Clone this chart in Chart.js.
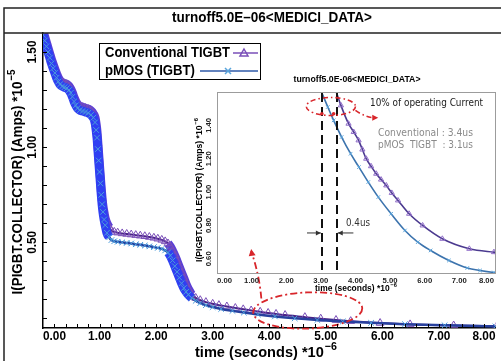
<!DOCTYPE html>
<html>
<head>
<meta charset="utf-8">
<script src="https://cdn.jsdelivr.net/npm/chart.js@4.4.1/dist/chart.umd.min.js"></script>
<style>
  html, body { margin: 0; padding: 0; background: #fff; }
  #wrap { position: relative; width: 501px; height: 361px; overflow: hidden; }
  #main { position: absolute; left: 0; top: 0; }
  #inset { position: absolute; left: 190px; top: 70px; }
</style>
</head>
<body>
<div id="wrap">
  <canvas id="main" width="501" height="361"></canvas>
  <canvas id="inset" width="311" height="230"></canvas>
</div>
<script>
// main plot: time (us) and collector current (x1e-5 A)
const convTime = [
  0.00, 0.03, 0.06, 0.09, 0.12, 0.15, 0.18, 0.21, 0.24, 0.27, 0.30,
  0.34, 0.38, 0.42, 0.46, 0.49, 0.52, 0.55, 0.58, 0.61, 0.65,
  0.70, 0.75, 0.80, 0.85, 0.89, 0.92, 0.94, 0.955, 0.97, 0.985,
  1.00, 1.015, 1.03, 1.045, 1.06, 1.08, 1.10, 1.13, 1.17, 1.21,
  1.26, 1.32, 1.40, 1.48, 1.56, 1.64, 1.72, 1.80, 1.88, 1.96,
  2.03, 2.10, 2.16, 2.21, 2.25, 2.29, 2.33, 2.37, 2.41, 2.45,
  2.49, 2.53, 2.57, 2.63, 2.70, 2.78, 2.88, 3.00, 3.11, 3.25,
  3.40, 3.54, 3.68, 3.84, 3.98, 4.12, 4.28, 4.63, 4.91, 5.18,
  5.44, 5.96, 6.49, 7.26, 8.02
];
const convCurrent = [
  1.61, 1.58, 1.55, 1.52, 1.49, 1.46, 1.435, 1.41, 1.385, 1.365, 1.35,
  1.34, 1.335, 1.33, 1.32, 1.305, 1.285, 1.26, 1.24, 1.225, 1.215,
  1.21, 1.205, 1.20, 1.19, 1.175, 1.155, 1.12, 1.08, 1.02, 0.96,
  0.90, 0.84, 0.78, 0.73, 0.69, 0.655, 0.625, 0.60, 0.578, 0.562,
  0.555, 0.551, 0.547, 0.544, 0.541, 0.538, 0.535, 0.532, 0.528, 0.524,
  0.519, 0.513, 0.505, 0.494, 0.478, 0.455, 0.43, 0.40, 0.37, 0.34,
  0.31, 0.28, 0.255, 0.225, 0.208, 0.196, 0.186, 0.177, 0.170, 0.163,
  0.155, 0.148, 0.142, 0.135, 0.129, 0.124, 0.118, 0.107, 0.099, 0.092,
  0.086, 0.076, 0.069, 0.063, 0.06
];
const pmosTime = [
  0.00, 0.03, 0.06, 0.09, 0.12, 0.15, 0.18, 0.21, 0.24, 0.27, 0.30,
  0.34, 0.38, 0.42, 0.46, 0.49, 0.52, 0.55, 0.58, 0.61, 0.65,
  0.70, 0.75, 0.80, 0.85, 0.89, 0.92, 0.94, 0.955, 0.97, 0.985,
  1.00, 1.015, 1.03, 1.045, 1.06, 1.08, 1.10, 1.13, 1.17, 1.21,
  1.26, 1.32, 1.40, 1.48, 1.56, 1.64, 1.72, 1.80, 1.88, 1.96,
  2.03, 2.10, 2.16, 2.21, 2.25, 2.29, 2.33, 2.37, 2.41, 2.45,
  2.49, 2.53, 2.57, 2.63, 2.70, 2.78, 2.88, 3.00, 3.15, 3.35,
  3.55, 3.80, 4.10, 4.45, 4.85, 5.30, 5.80, 6.40, 7.10, 8.00
];
const pmosCurrent = [
  1.59, 1.56, 1.53, 1.50, 1.47, 1.44, 1.415, 1.39, 1.365, 1.345, 1.33,
  1.32, 1.315, 1.31, 1.30, 1.285, 1.265, 1.24, 1.22, 1.205, 1.195,
  1.19, 1.185, 1.18, 1.17, 1.155, 1.13, 1.09, 1.05, 0.99, 0.93,
  0.87, 0.81, 0.75, 0.70, 0.66, 0.62, 0.59, 0.55, 0.527, 0.512,
  0.506, 0.503, 0.50, 0.497, 0.494, 0.49, 0.487, 0.483, 0.479, 0.475,
  0.471, 0.466, 0.458, 0.447, 0.43, 0.405, 0.375, 0.345, 0.315, 0.285,
  0.26, 0.24, 0.225, 0.208, 0.193, 0.181, 0.17, 0.16, 0.15, 0.14,
  0.131, 0.121, 0.111, 0.101, 0.092, 0.084, 0.077, 0.07, 0.064, 0.058
];
const xTickValues = [0, 1, 2, 3, 4, 5, 6, 7, 8];
const xTickLabels = ['0.00', '1.00', '2.00', '3.00', '4.00', '5.00', '6.00', '7.00', '8.00'];
const yTickValues = [0.5, 1.0, 1.5];
const yTickLabels = ['0.50', '1.00', '1.50'];

// inset plot (x1e-6 A)
const insetConvTime = [3.43, 3.58, 3.80, 3.95, 4.09, 4.20, 4.31, 4.45, 4.60, 4.74, 4.89, 5.05, 5.23, 5.55, 5.94, 6.51, 7.29, 8.00, 8.10];
const insetConvCurrent = [1.61, 1.52, 1.41, 1.36, 1.31, 1.255, 1.20, 1.155, 1.11, 1.075, 1.04, 0.995, 0.95, 0.87, 0.80, 0.72, 0.66, 0.64, 0.638];
const insetPmosTime = [3.00, 3.20, 3.37, 3.60, 3.86, 4.10, 4.37, 4.66, 5.03, 5.43, 5.80, 6.17, 6.70, 7.23, 7.60, 8.00, 8.10];
const insetPmosCurrent = [1.61, 1.51, 1.43, 1.33, 1.23, 1.15, 1.06, 0.97, 0.87, 0.77, 0.70, 0.65, 0.59, 0.545, 0.53, 0.518, 0.516];
const insetYTickValues = [0.6, 0.8, 1.0, 1.2, 1.4];
const insetYTickLabels = ['0.60', '0.80', '1.00', '1.20', '1.40'];
const turnoffTimes = [3.03, 3.46];

const SANS = '"Liberation Sans", Arial, Helvetica, sans-serif';
const RED = '#d8262b';

function pairs(ts, vs) {
  return ts.map((t, i) => ({ x: t, y: vs[i] }));
}

function drawLabel(ctx, text, x, y, o) {
  ctx.save();
  ctx.font = `${o.weight || 'bold'} ${o.size}px ${o.family || SANS}`;
  const w = ctx.measureText(text).width;
  const sx = o.width ? o.width / w : 1;
  ctx.translate(x, y);
  if (o.rotate) ctx.rotate(o.rotate);
  ctx.scale(sx, 1);
  ctx.fillStyle = o.color || '#000';
  ctx.textBaseline = 'middle';
  ctx.textAlign = o.align || 'center';
  ctx.fillText(text, 0, 0);
  ctx.restore();
}

function drawSupLabel(ctx, base, sup, x, y, o) {
  const supSize = Math.round(o.size * 0.72);
  ctx.save();
  ctx.font = `bold ${o.size}px ${SANS}`;
  const wb = ctx.measureText(base).width;
  ctx.font = `bold ${supSize}px ${SANS}`;
  const ws = ctx.measureText(sup).width;
  const total = wb + 1 + ws;
  const sx = o.width ? o.width / total : 1;
  ctx.translate(x, y);
  if (o.rotate) ctx.rotate(o.rotate);
  ctx.scale(sx, 1);
  ctx.fillStyle = '#000';
  ctx.textBaseline = 'middle';
  ctx.textAlign = 'left';
  ctx.font = `bold ${o.size}px ${SANS}`;
  ctx.fillText(base, -total / 2, 0);
  ctx.font = `bold ${supSize}px ${SANS}`;
  ctx.fillText(sup, -total / 2 + wb + 1, -o.size * 0.4);
  ctx.restore();
}

function arrowHead(ctx, x, y, ang, size, color) {
  ctx.save();
  ctx.translate(x, y);
  ctx.rotate(ang);
  ctx.fillStyle = color;
  ctx.beginPath();
  ctx.moveTo(0, 0);
  ctx.lineTo(-size, -size * 0.5);
  ctx.lineTo(-size, size * 0.5);
  ctx.closePath();
  ctx.fill();
  ctx.restore();
}

// steep, densely sampled parts of the transient show up as a solid band
const inBand = t => t < 1.17 || (t > 2.2 && t < 2.62);
function bandSegment(thick, thin, thinWidth) {
  return {
    borderWidth: c => inBand(c.p0.parsed.x) ? 9 : thinWidth,
    borderColor: c => inBand(c.p0.parsed.x) ? thick : thin
  };
}

const mainDecor = {
  id: 'mainDecor',
  afterDatasetsDraw(chart) {
    const { ctx, scales: { x, y } } = chart;
    ctx.save();
    ctx.strokeStyle = RED;
    ctx.lineWidth = 1.8;
    ctx.setLineDash([7, 3, 2, 3]);
    const cx = x.getPixelForValue(4.68), cy = y.getPixelForValue(0.142);
    const rx = x.getPixelForValue(4.68 + 0.965) - cx;
    const ry = cy - y.getPixelForValue(0.142 + 0.095);
    ctx.beginPath();
    ctx.ellipse(cx, cy, rx, ry, -0.04, 0, Math.PI * 2);
    ctx.stroke();
    const x0 = x.getPixelForValue(3.86), y0 = y.getPixelForValue(0.205);
    const x1 = x.getPixelForValue(3.68), y1 = y.getPixelForValue(0.455);
    ctx.beginPath();
    ctx.moveTo(x0, y0);
    ctx.quadraticCurveTo(x0 - 2, (y0 + y1) / 2, x1, y1);
    ctx.stroke();
    ctx.setLineDash([]);
    arrowHead(ctx, x1, y1 - 2, -Math.PI / 2 - 0.15, 7, RED);
    ctx.restore();
  },
  afterDraw(chart) {
    const { ctx, chartArea: a, scales: { x, y } } = chart;
    ctx.save();
    // frame and title strip
    ctx.strokeStyle = '#222';
    ctx.lineWidth = 1.5;
    ctx.beginPath();
    ctx.moveTo(4, 361); ctx.lineTo(4, 8); ctx.lineTo(501, 8);
    ctx.moveTo(4, a.top); ctx.lineTo(501, a.top);
    ctx.stroke();
    drawLabel(ctx, 'turnoff5.0E–06<MEDICI_DATA>', 272, 18, { size: 14, width: 200 });

    // inward minor ticks
    ctx.strokeStyle = '#000';
    ctx.lineWidth = 1;
    ctx.beginPath();
    for (let v = 0.2; v < 7.95; v += 0.2) {
      const px = Math.round(x.getPixelForValue(v)) + 0.5;
      ctx.moveTo(px, a.bottom); ctx.lineTo(px, a.bottom - 4);
    }
    for (let v = 0.1; v < 1.59; v += 0.1) {
      const py = Math.round(y.getPixelForValue(v)) + 0.5;
      ctx.moveTo(a.left, py); ctx.lineTo(a.left + 4, py);
    }
    ctx.stroke();

    // tick labels
    xTickValues.forEach((v, i) => {
      const px = x.getPixelForValue(v);
      const align = i === 0 ? 'left' : (i === xTickValues.length - 1 ? 'right' : 'center');
      drawLabel(ctx, xTickLabels[i], px, 336, { size: 13, width: 23, align });
    });
    yTickValues.forEach((v, i) => {
      drawLabel(ctx, yTickLabels[i], 32, y.getPixelForValue(v), { size: 13, width: 23, rotate: -Math.PI / 2 });
    });

    // axis titles
    drawSupLabel(ctx, 'time (seconds) *10', '−6', 266, 353, { size: 15, width: 142 });
    drawSupLabel(ctx, 'I(PIGBT.COLLECTOR) (Amps) *10', '−5', 18, 182, { size: 15, width: 225, rotate: -Math.PI / 2 });

    // legend box
    ctx.fillStyle = '#fff';
    ctx.fillRect(99, 43, 161, 36);
    ctx.strokeStyle = '#000';
    ctx.lineWidth = 1;
    ctx.strokeRect(99.5, 43.5, 161, 36);
    drawLabel(ctx, 'Conventional TIGBT', 105, 53, { size: 14, width: 125, align: 'left' });
    drawLabel(ctx, 'pMOS (TIGBT)', 105, 71, { size: 14, width: 90, align: 'left' });
    const ds = chart.data.datasets;
    ctx.lineWidth = 1.5;
    ctx.strokeStyle = ds[0].pointBorderColor;
    ctx.beginPath(); ctx.moveTo(233, 53); ctx.lineTo(258, 53); ctx.stroke();
    ctx.beginPath(); ctx.moveTo(244, 49); ctx.lineTo(248, 56); ctx.lineTo(240, 56); ctx.closePath(); ctx.stroke();
    ctx.strokeStyle = '#2f5aa8';
    ctx.beginPath(); ctx.moveTo(200, 71); ctx.lineTo(258, 71); ctx.stroke();
    ctx.strokeStyle = '#5aa5dc';
    ctx.beginPath();
    ctx.moveTo(225, 68); ctx.lineTo(231, 74); ctx.moveTo(231, 68); ctx.lineTo(225, 74);
    ctx.stroke();
    ctx.restore();
  }
};

new Chart(document.getElementById('main'), {
  type: 'line',
  data: {
    datasets: [
      {
        label: 'Conventional TIGBT',
        data: pairs(convTime, convCurrent),
        borderColor: '#4a2385',
        borderWidth: 2,
        pointStyle: 'triangle',
        pointRadius: 4.5,
        pointBorderWidth: 1,
        pointBorderColor: '#7a4fb8',
        pointBackgroundColor: 'rgba(0,0,0,0)',
        cubicInterpolationMode: 'monotone',
        segment: bandSegment('#5b3fd6', '#4a2385', 2),
        clip: 0,
        order: 1
      },
      {
        label: 'pMOS (TIGBT)',
        data: pairs(pmosTime, pmosCurrent),
        borderColor: '#27409e',
        borderWidth: 2.5,
        pointStyle: 'crossRot',
        pointRadius: 4,
        pointBorderWidth: 1,
        pointBorderColor: '#4a9ddc',
        cubicInterpolationMode: 'monotone',
        segment: bandSegment('#2f3ff2', '#27409e', 2.5),
        clip: 0,
        order: 0
      }
    ]
  },
  options: {
    responsive: false,
    animation: false,
    devicePixelRatio: 1,
    layout: { padding: { top: 33, right: 1, left: 0, bottom: 0 } },
    plugins: { legend: { display: false }, tooltip: { enabled: false } },
    scales: {
      x: {
        type: 'linear', min: 0, max: 8,
        ticks: { display: false },
        grid: { display: false, drawTicks: false },
        border: { display: true, color: '#000', width: 1.5 },
        afterFit: s => { s.height = 33; }
      },
      y: {
        type: 'linear', min: 0.05, max: 1.6,
        ticks: { display: false },
        grid: { display: false, drawTicks: false },
        border: { display: true, color: '#000', width: 1.5 },
        afterFit: s => { s.width = 43; }
      }
    }
  },
  plugins: [mainDecor]
});

const insetDecor = {
  id: 'insetDecor',
  afterDraw(chart) {
    const { ctx, chartArea: a, scales: { x, y } } = chart;
    ctx.save();
    ctx.strokeStyle = '#9c9c9c';
    ctx.lineWidth = 1;
    ctx.strokeRect(a.left + 0.5, a.top + 0.5, a.right - a.left - 1, a.bottom - a.top);
    drawLabel(ctx, 'turnoff5.0E-06<MEDICI_DATA>', 167, 10, { size: 9, width: 127 });

    xTickValues.forEach((v, i) => {
      const px = x.getPixelForValue(v);
      const align = i === 0 ? 'left' : (i === xTickValues.length - 1 ? 'right' : 'center');
      drawLabel(ctx, xTickLabels[i], px, 211, { size: 8, width: 15, align, color: '#222' });
    });
    insetYTickValues.forEach((v, i) => {
      drawLabel(ctx, insetYTickLabels[i], 19, y.getPixelForValue(v), { size: 8, width: 15, rotate: -Math.PI / 2, color: '#222' });
    });
    drawSupLabel(ctx, 'time (seconds) *10', '−6', 166, 219, { size: 9, width: 82 });
    drawSupLabel(ctx, 'I(PIGBT.COLLECTOR) (Amps) *10', '−6', 10, 120, { size: 9, width: 144, rotate: -Math.PI / 2 });

    // turn-off markers
    ctx.strokeStyle = '#111';
    ctx.lineWidth = 2;
    ctx.setLineDash([9, 5]);
    turnoffTimes.forEach(t => {
      const px = Math.round(x.getPixelForValue(t));
      ctx.beginPath(); ctx.moveTo(px, a.top + 1); ctx.lineTo(px, a.bottom); ctx.stroke();
    });
    ctx.setLineDash([]);
    const ay = y.getPixelForValue(0.755);
    const l0 = x.getPixelForValue(2.6), l1 = x.getPixelForValue(turnoffTimes[0]) - 1;
    const r0 = x.getPixelForValue(3.94), r1 = x.getPixelForValue(turnoffTimes[1]) + 1;
    ctx.lineWidth = 1;
    ctx.strokeStyle = '#333';
    ctx.beginPath(); ctx.moveTo(l0, ay); ctx.lineTo(l1, ay); ctx.moveTo(r0, ay); ctx.lineTo(r1, ay); ctx.stroke();
    arrowHead(ctx, l1, ay, 0, 5, '#333');
    arrowHead(ctx, r1, ay, Math.PI, 5, '#333');
    drawLabel(ctx, '0.4us', 156, 153, { size: 10, width: 24, align: 'left', weight: 'normal', family: '"DejaVu Sans", sans-serif', color: '#333' });

    // 10 % annotation
    ctx.strokeStyle = RED;
    ctx.lineWidth = 1.6;
    ctx.setLineDash([5, 3, 1.5, 3]);
    const cx = x.getPixelForValue(3.29), cy = y.getPixelForValue(1.513);
    const rx = x.getPixelForValue(3.29 + 0.71) - cx, ry = cy - y.getPixelForValue(1.513 + 0.054);
    ctx.beginPath(); ctx.ellipse(cx, cy, rx, ry, 0, 0, Math.PI * 2); ctx.stroke();
    const e0x = x.getPixelForValue(4.0), e0y = y.getPixelForValue(1.49);
    const e1x = x.getPixelForValue(4.6), e1y = y.getPixelForValue(1.445);
    ctx.beginPath(); ctx.moveTo(e0x, e0y); ctx.quadraticCurveTo((e0x + e1x) / 2, e1y, e1x, e1y); ctx.stroke();
    ctx.setLineDash([]);
    arrowHead(ctx, e1x + 2, e1y, 0, 6, RED);
    ctx.fillStyle = RED;
    [[3.03, 1.47], [3.37, 1.47]].forEach(([t, v]) => {
      ctx.beginPath(); ctx.arc(x.getPixelForValue(t), y.getPixelForValue(v), 1.8, 0, Math.PI * 2); ctx.fill();
    });

    drawLabel(ctx, '10% of operating Current', 180, 33, { size: 10, width: 113, align: 'left', weight: 'normal', family: '"DejaVu Sans", sans-serif', color: '#1a1a1a' });
    drawLabel(ctx, 'Conventional : 3.4us', 188, 63, { size: 10, width: 95, align: 'left', weight: 'normal', family: '"DejaVu Sans", sans-serif', color: '#8a8a8a' });
    drawLabel(ctx, 'pMOS  TIGBT  : 3.1us', 188, 75, { size: 10, width: 95, align: 'left', weight: 'normal', family: '"DejaVu Sans", sans-serif', color: '#8a8a8a' });
    ctx.restore();
  }
};

new Chart(document.getElementById('inset'), {
  type: 'line',
  data: {
    datasets: [
      {
        label: 'Conventional TIGBT',
        data: pairs(insetConvTime, insetConvCurrent),
        borderColor: '#4b3a8f',
        borderWidth: 1.6,
        pointStyle: 'triangle',
        pointRadius: 3,
        pointBorderWidth: 1,
        pointBorderColor: '#8f6cc8',
        pointBackgroundColor: 'rgba(0,0,0,0)',
        cubicInterpolationMode: 'monotone',
        clip: 0
      },
      {
        label: 'pMOS (TIGBT)',
        data: pairs(insetPmosTime, insetPmosCurrent),
        borderColor: '#3c73ad',
        borderWidth: 1.6,
        pointStyle: 'crossRot',
        pointRadius: 2.5,
        pointBorderWidth: 1,
        pointBorderColor: '#5aa5dc',
        cubicInterpolationMode: 'monotone',
        clip: 0
      }
    ]
  },
  options: {
    responsive: false,
    animation: false,
    devicePixelRatio: 1,
    layout: { padding: { top: 22, right: 2, left: 0, bottom: 0 } },
    plugins: { legend: { display: false }, tooltip: { enabled: false } },
    scales: {
      x: {
        type: 'linear', min: 0, max: 8.06,
        ticks: { display: false },
        grid: { display: false, drawTicks: false },
        border: { display: false },
        afterFit: s => { s.height = 27; }
      },
      y: {
        type: 'linear', min: 0.515, max: 1.6,
        ticks: { display: false },
        grid: { display: false, drawTicks: false },
        border: { display: false },
        afterFit: s => { s.width = 27; }
      }
    }
  },
  plugins: [insetDecor]
});
</script>
</body>
</html>
